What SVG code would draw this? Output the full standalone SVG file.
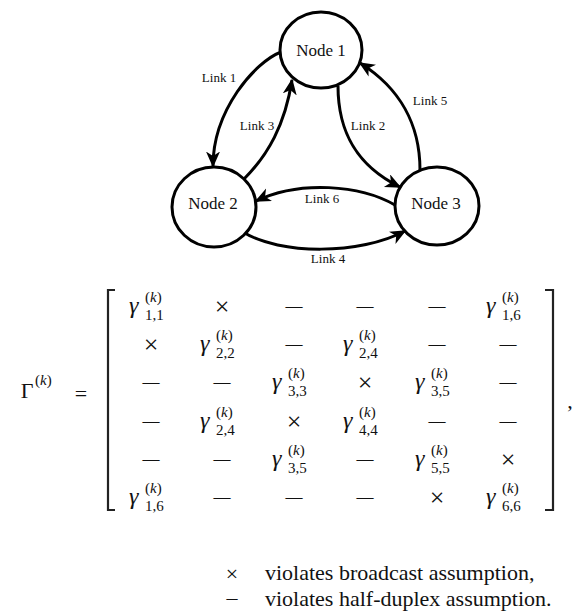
<svg xmlns="http://www.w3.org/2000/svg" width="579" height="614" viewBox="0 0 579 614" font-family="Liberation Serif, Times New Roman, DejaVu Serif, serif">
<style>
text{font-family:"Liberation Serif","Times New Roman","DejaVu Serif",serif;fill:#111}
.node{fill:#fff;stroke:#000;stroke-width:3}
.lnk{fill:none;stroke:#000;stroke-width:3}
.nl{font-size:17px;text-anchor:middle}
.ll{font-size:13px;text-anchor:middle}
.g{font-size:24px;font-style:italic}
.sc{font-size:15px}
.it{font-style:italic}
.op{font-size:22px;text-anchor:middle}
.x{font-size:26px;text-anchor:middle}
.ds{font-size:17px;text-anchor:middle}
.lg{font-size:22px}
.br{fill:none;stroke:#222;stroke-width:2.2}
</style>
<defs>
<marker id="ah" markerUnits="userSpaceOnUse" markerWidth="18" markerHeight="16" refX="14.5" refY="7" orient="auto">
<path d="M0,0 L16,7 L0,14 L4.5,7 z" fill="#000"/>
</marker>
</defs>
<g id="connectors">
<path id="link1" class="lnk" d="M281,52 C255,62 213,110 213,166" marker-end="url(#ah)"/>
<path id="link3" class="lnk" d="M244,179 C268,155 285,125 292,80" marker-end="url(#ah)"/>
<path id="link2" class="lnk" d="M338,86 C338,130 355,165 400,187" marker-end="url(#ah)"/>
<path id="link5" class="lnk" d="M420,170 C420,125 400,88 360,63" marker-end="url(#ah)"/>
<path id="link6" class="lnk" d="M395,205 C360,185 300,180 256,201" marker-end="url(#ah)"/>
<path id="link4" class="lnk" d="M243,232 C280,255 360,255 405,231" marker-end="url(#ah)"/>
<text class="ll" x="219" y="82">Link 1</text>
<text class="ll" x="257" y="130">Link 3</text>
<text class="ll" x="368" y="130">Link 2</text>
<text class="ll" x="430" y="105">Link 5</text>
<text class="ll" x="322" y="203">Link 6</text>
<text class="ll" x="328" y="263">Link 4</text>
</g>
<g id="node1"><ellipse class="node" cx="321" cy="50" rx="41" ry="38"/><text class="nl" x="321" y="56">Node 1</text></g>
<g id="node2"><ellipse class="node" cx="214" cy="207" rx="42" ry="40"/><text class="nl" x="213" y="209">Node 2</text></g>
<g id="node3"><ellipse class="node" cx="437" cy="206" rx="42" ry="39"/><text class="nl" x="436" y="209">Node 3</text></g>
<g id="equation">
<text class="op" x="27" y="398">Γ</text>
<text class="sc" x="35" y="385">(<tspan class="it">k</tspan>)</text>
<text class="op" x="81" y="401">=</text>
<path class="br" d="M115,290 H108 V510 H115"/>
<path class="br" d="M545,290 H553 V510 H545"/>
<text class="op" x="570" y="408">,</text>
<g transform="translate(151,307)"><text class="g" x="-22" y="6">γ</text><text class="sc" x="-6" y="-5">(<tspan class="it">k</tspan>)</text><text class="sc" x="-6" y="13">1,1</text></g>
<text class="x" x="222" y="315">×</text>
<text class="ds" x="294" y="311">—</text>
<text class="ds" x="365" y="311">—</text>
<text class="ds" x="437" y="311">—</text>
<g transform="translate(508,307)"><text class="g" x="-22" y="6">γ</text><text class="sc" x="-6" y="-5">(<tspan class="it">k</tspan>)</text><text class="sc" x="-6" y="13">1,6</text></g>
<text class="x" x="151" y="353">×</text>
<g transform="translate(222,345)"><text class="g" x="-22" y="6">γ</text><text class="sc" x="-6" y="-5">(<tspan class="it">k</tspan>)</text><text class="sc" x="-6" y="13">2,2</text></g>
<text class="ds" x="294" y="349">—</text>
<g transform="translate(365,345)"><text class="g" x="-22" y="6">γ</text><text class="sc" x="-6" y="-5">(<tspan class="it">k</tspan>)</text><text class="sc" x="-6" y="13">2,4</text></g>
<text class="ds" x="437" y="349">—</text>
<text class="ds" x="508" y="349">—</text>
<text class="ds" x="151" y="387">—</text>
<text class="ds" x="222" y="387">—</text>
<g transform="translate(294,383)"><text class="g" x="-22" y="6">γ</text><text class="sc" x="-6" y="-5">(<tspan class="it">k</tspan>)</text><text class="sc" x="-6" y="13">3,3</text></g>
<text class="x" x="365" y="391">×</text>
<g transform="translate(437,383)"><text class="g" x="-22" y="6">γ</text><text class="sc" x="-6" y="-5">(<tspan class="it">k</tspan>)</text><text class="sc" x="-6" y="13">3,5</text></g>
<text class="ds" x="508" y="387">—</text>
<text class="ds" x="151" y="426">—</text>
<g transform="translate(222,422)"><text class="g" x="-22" y="6">γ</text><text class="sc" x="-6" y="-5">(<tspan class="it">k</tspan>)</text><text class="sc" x="-6" y="13">2,4</text></g>
<text class="x" x="294" y="430">×</text>
<g transform="translate(365,422)"><text class="g" x="-22" y="6">γ</text><text class="sc" x="-6" y="-5">(<tspan class="it">k</tspan>)</text><text class="sc" x="-6" y="13">4,4</text></g>
<text class="ds" x="437" y="426">—</text>
<text class="ds" x="508" y="426">—</text>
<text class="ds" x="151" y="464">—</text>
<text class="ds" x="222" y="464">—</text>
<g transform="translate(294,460)"><text class="g" x="-22" y="6">γ</text><text class="sc" x="-6" y="-5">(<tspan class="it">k</tspan>)</text><text class="sc" x="-6" y="13">3,5</text></g>
<text class="ds" x="365" y="464">—</text>
<g transform="translate(437,460)"><text class="g" x="-22" y="6">γ</text><text class="sc" x="-6" y="-5">(<tspan class="it">k</tspan>)</text><text class="sc" x="-6" y="13">5,5</text></g>
<text class="x" x="508" y="468">×</text>
<g transform="translate(151,498)"><text class="g" x="-22" y="6">γ</text><text class="sc" x="-6" y="-5">(<tspan class="it">k</tspan>)</text><text class="sc" x="-6" y="13">1,6</text></g>
<text class="ds" x="222" y="502">—</text>
<text class="ds" x="294" y="502">—</text>
<text class="ds" x="365" y="502">—</text>
<text class="x" x="437" y="506">×</text>
<g transform="translate(508,498)"><text class="g" x="-22" y="6">γ</text><text class="sc" x="-6" y="-5">(<tspan class="it">k</tspan>)</text><text class="sc" x="-6" y="13">6,6</text></g>
</g>
<g id="legend">
<text class="op" x="232" y="581">×</text>
<text class="lg" x="265" y="580">violates broadcast assumption,</text>
<text class="op" x="232" y="605">–</text>
<text class="lg" x="265" y="606">violates half-duplex assumption.</text>
</g>
</svg>
